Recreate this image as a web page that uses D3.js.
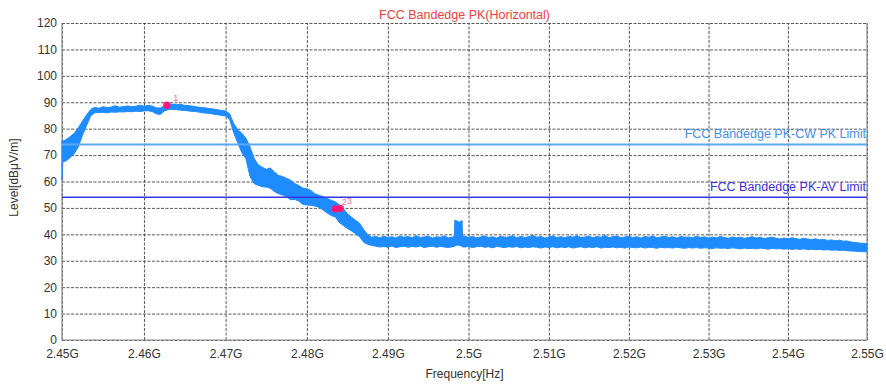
<!DOCTYPE html>
<html>
<head>
<meta charset="utf-8">
<script src="https://cdn.jsdelivr.net/npm/d3@7"></script>
<style>
  body { margin: 0; background: #fff; }
  svg { display: block; font-family: "Liberation Sans", Arial, sans-serif; }
</style>
</head>
<body>
<svg id="chart" width="886" height="385"></svg>
<script>
// ---- axis ticks ----
const xTickMHz = [2450, 2460, 2470, 2480, 2490, 2500, 2510, 2520, 2530, 2540, 2550];
const xTickLabels = ["2.45G", "2.46G", "2.47G", "2.48G", "2.49G", "2.5G", "2.51G", "2.52G", "2.53G", "2.54G", "2.55G"];
const yTicks = [0, 10, 20, 30, 40, 50, 60, 70, 80, 90, 100, 110, 120];

// ---- limit lines ----
const limitNames = ["FCC Bandedge PK-CW PK Limit", "FCC Bandedge PK-AV Limit"];
const limitLevels = [74, 54];

// ---- markers ----
const markerIds = ["1", "2", "3"];
const markerMHz = [2462.8, 2483.5, 2484.1];
const markerLevels = [88.9, 49.6, 49.8];

// ---- peak trace: max / min hold per sweep point (MHz, dBµV/m) ----
const traceMHz = [
  2450.0,2450.1,2450.5,2451.0,2451.5,2452.0,2452.5,2453.0,2453.5,2454.0,
  2454.5,2455.0,2455.5,2456.0,2456.5,2457.0,2457.5,2458.0,2458.5,2459.0,
  2459.5,2460.0,2460.5,2461.0,2461.5,2462.0,2462.5,2463.0,2463.5,2464.0,
  2464.5,2465.0,2465.5,2466.0,2466.5,2467.0,2467.5,2468.0,2468.5,2469.0,
  2469.5,2470.0,2470.5,2471.0,2471.5,2472.0,2472.5,2473.0,2473.5,2474.0,
  2474.5,2475.0,2475.5,2476.0,2476.5,2477.0,2477.5,2478.0,2478.5,2479.0,
  2479.5,2480.0,2480.5,2481.0,2481.5,2482.0,2482.5,2483.0,2483.5,2484.0,
  2484.5,2485.0,2485.5,2486.0,2486.5,2487.0,2487.5,2488.0,2488.5,2489.0,
  2489.5,2490.0,2490.5,2491.0,2491.5,2492.0,2492.5,2493.0,2493.5,2494.0,
  2494.5,2495.0,2495.5,2496.0,2496.5,2497.0,2497.5,2498.0,2498.25,2498.3,
  2498.6,2498.9,2499.2,2499.25,2499.5,2500.0,2500.5,2501.0,2501.5,2502.0,
  2502.5,2503.0,2503.5,2504.0,2504.5,2505.0,2505.5,2506.0,2506.5,2507.0,
  2507.5,2508.0,2508.5,2509.0,2509.5,2510.0,2510.5,2511.0,2511.5,2512.0,
  2512.5,2513.0,2513.5,2514.0,2514.5,2515.0,2515.5,2516.0,2516.5,2517.0,
  2517.5,2518.0,2518.5,2519.0,2519.5,2520.0,2520.5,2521.0,2521.5,2522.0,
  2522.5,2523.0,2523.5,2524.0,2524.5,2525.0,2525.5,2526.0,2526.5,2527.0,
  2527.5,2528.0,2528.5,2529.0,2529.5,2530.0,2530.5,2531.0,2531.5,2532.0,
  2532.5,2533.0,2533.5,2534.0,2534.5,2535.0,2535.5,2536.0,2536.5,2537.0,
  2537.5,2538.0,2538.5,2539.0,2539.5,2540.0,2540.5,2541.0,2541.5,2542.0,
  2542.5,2543.0,2543.5,2544.0,2544.5,2545.0,2545.5,2546.0,2546.5,2547.0,
  2547.5,2548.0,2548.5,2549.0,2549.5,2550.0
];
const tracePeakMax = [
  75.4,75.2,75.9,77.0,78.3,80.4,82.9,85.2,87.3,88.1,
  87.7,88.3,88.0,88.2,88.7,88.1,88.4,88.6,88.3,88.5,
  88.9,88.5,88.8,88.6,87.9,87.8,88.7,89.2,89.3,89.1,
  89.2,88.8,88.7,88.5,88.2,88.0,87.9,87.6,87.4,87.2,
  86.9,86.7,85.6,81.9,79.6,78.3,76.4,73.1,68.8,66.3,
  65.4,64.6,65.1,63.6,62.3,61.9,61.2,60.5,59.2,58.5,
  57.5,57.2,56.6,55.3,54.8,54.2,53.6,52.9,52.3,51.2,
  49.7,47.8,46.5,45.3,44.2,41.8,39.9,38.9,39.2,38.7,
  39.3,38.8,39.1,38.6,39.4,38.9,39.2,38.7,39.5,38.8,
  39.0,39.3,38.6,39.1,38.9,39.4,38.7,39.0,39.2,45.4,
  45.0,44.6,45.2,39.1,39.3,38.9,39.2,38.7,39.0,39.4,
  38.8,39.1,38.6,39.3,38.9,39.0,39.5,38.7,39.2,38.8,
  39.1,39.6,38.9,39.2,38.6,39.0,39.4,38.8,39.1,38.7,
  39.3,38.9,39.5,38.8,39.0,39.3,38.7,39.2,38.9,39.6,
  38.8,39.1,39.4,38.7,39.0,39.3,38.8,39.1,38.6,39.2,
  38.9,39.4,38.7,39.0,39.3,38.8,39.1,38.6,39.2,38.9,
  39.0,38.7,39.3,38.8,39.1,38.6,39.0,38.7,39.2,38.8,
  38.5,39.0,38.7,38.9,38.5,38.8,39.1,38.6,38.9,38.4,
  38.7,38.9,38.5,38.2,38.6,38.3,38.7,38.4,38.1,38.5,
  38.2,38.0,38.3,37.9,38.1,37.7,37.9,37.6,37.8,37.4,
  37.5,37.1,36.9,36.7,36.6,36.5
];
const tracePeakMin = [
  60.6,67.5,67.8,69.1,70.6,73.2,77.6,81.2,84.9,86.0,
  86.1,86.2,86.0,86.3,86.2,86.4,86.3,86.5,86.4,86.6,
  86.5,86.7,86.8,86.5,85.6,85.4,86.7,87.2,87.3,87.2,
  87.0,86.9,86.7,86.5,86.4,86.1,85.9,85.8,85.5,85.3,
  85.0,84.8,83.4,78.4,74.6,70.9,68.6,61.9,59.2,58.6,
  58.0,57.9,57.4,56.2,55.4,54.9,54.2,53.1,53.2,52.6,
  51.3,51.1,51.0,50.7,50.2,49.2,48.1,47.1,46.6,44.5,
  43.3,42.2,41.3,40.2,39.1,37.0,36.2,35.8,35.5,35.2,
  35.4,35.1,35.6,35.0,35.3,35.5,35.1,35.4,35.2,35.6,
  35.0,35.3,35.5,35.1,35.4,35.2,35.0,35.3,35.4,35.6,
  36.0,35.8,35.5,35.2,35.2,35.4,35.0,35.3,35.5,35.1,
  35.3,34.9,35.4,35.2,35.0,35.3,35.1,35.4,34.9,35.2,
  35.0,35.3,35.1,34.8,35.2,35.0,35.3,34.9,35.2,35.0,
  35.3,34.8,35.1,35.3,34.9,35.2,35.0,35.3,34.8,35.1,
  35.0,35.2,34.9,35.1,34.8,35.2,35.0,34.9,35.2,34.8,
  35.1,35.0,34.7,35.1,34.9,35.0,34.8,35.1,34.9,34.7,
  35.0,34.8,35.0,34.7,34.9,34.8,34.6,34.9,34.7,34.8,
  34.6,34.9,34.7,34.5,34.8,34.6,34.7,34.5,34.8,34.6,
  34.4,34.7,34.5,34.6,34.4,34.6,34.3,34.5,34.3,34.5,
  34.2,34.4,34.2,34.3,34.1,34.2,34.0,34.1,33.9,34.0,
  33.8,33.7,33.6,33.5,33.4,33.4
];

// ---- layout ----
const plot = { left: 62, right: 867, top: 23, bottom: 340 };
const pw = plot.right - plot.left, ph = plot.bottom - plot.top;

const x = d3.scaleLog().domain([2450, 2550]).range([plot.left, plot.right]);
const y = d3.scaleLinear().domain([0, 120]).range([plot.bottom, plot.top]);

const svg = d3.select("#chart");
const font = "Liberation Sans, Arial, sans-serif";

// horizontal grid + level labels
const gy = svg.append("g")
  .attr("transform", `translate(${plot.left},0)`)
  .call(d3.axisLeft(y).tickValues(yTicks).tickSize(-pw).tickSizeOuter(0).tickPadding(5).tickFormat(d => d));
gy.select(".domain").remove();
gy.selectAll(".tick line").attr("stroke", "#3c3c3c").attr("stroke-dasharray", "3,1.5").attr("stroke-opacity", 0.85);
gy.selectAll(".tick text").attr("fill", "#333").style("font-size", "12px").style("font-family", font);

// vertical grid + frequency labels
const gx = svg.append("g")
  .attr("transform", `translate(0,${plot.bottom})`)
  .call(d3.axisBottom(x).tickValues(xTickMHz).tickSize(-ph).tickSizeOuter(0).tickPadding(9)
    .tickFormat((d, i) => xTickLabels[i]));
gx.select(".domain").remove();
gx.selectAll(".tick line").attr("stroke", "#3c3c3c").attr("stroke-dasharray", "3,1.5").attr("stroke-opacity", 0.85);
gx.selectAll(".tick text").attr("fill", "#333").style("font-size", "12px").style("font-family", font);

// frame: left, bottom and right edges solid
svg.append("path")
  .attr("d", `M${plot.left},${plot.top}V${plot.bottom}H${plot.right}V${plot.top}`)
  .attr("fill", "none").attr("stroke", "#8c8c8c").attr("stroke-width", 1.2);

// trace band between max and min hold
const pts = traceMHz.map((f, i) => ({ f, hi: tracePeakMax[i], lo: tracePeakMin[i] }));
const area = d3.area().x(d => x(d.f)).y0(d => y(d.lo)).y1(d => y(d.hi));
svg.append("path").datum(pts)
  .attr("d", area)
  .attr("fill", "#1e8cff")
  .attr("stroke", "#1e8cff").attr("stroke-width", 1).attr("stroke-linejoin", "round");

// limit lines with right-aligned names
const limitColors = ["#5aa9f2", "#3535e6"];
const limitTextColors = ["#3f8ff0", "#3a2fe6"];
const limitWidths = [2, 1.5];
limitLevels.forEach((lv, i) => {
  svg.append("line")
    .attr("x1", plot.left).attr("x2", plot.right)
    .attr("y1", y(lv)).attr("y2", y(lv))
    .attr("stroke", limitColors[i]).attr("stroke-width", limitWidths[i]);
  svg.append("text")
    .attr("x", plot.right - 1).attr("y", y(lv) - 6.5)
    .attr("text-anchor", "end")
    .attr("fill", limitTextColors[i])
    .style("font-size", "12.5px").style("font-family", font)
    .text(limitNames[i]);
});

// markers: dots first, then their numbers
const markerPos = markerIds.map((id, i) => ({ id, cx: x(markerMHz[i]), cy: y(markerLevels[i]) }));
markerPos.forEach(m => {
  svg.append("circle").attr("cx", m.cx).attr("cy", m.cy).attr("r", 3.6).attr("fill", "#ff1677");
});
markerPos.forEach(m => {
  svg.append("text")
    .attr("x", m.cx + 6.5).attr("y", m.cy - 4)
    .attr("fill", "#ff6aa6")
    .style("font-size", "9px").style("font-family", font)
    .text(m.id);
});

// title
svg.append("text")
  .attr("x", (plot.left + plot.right) / 2).attr("y", 19)
  .attr("text-anchor", "middle").attr("fill", "#f83c3c")
  .style("font-size", "12.5px").style("font-family", font)
  .text("FCC Bandedge PK(Horizontal)");

// axis titles
svg.append("text")
  .attr("transform", `translate(18,${(plot.top + plot.bottom) / 2 - 4}) rotate(-90)`)
  .attr("text-anchor", "middle").attr("fill", "#333")
  .style("font-size", "12px").style("font-family", font)
  .text("Level[dBμV/m]");
svg.append("text")
  .attr("x", (plot.left + plot.right) / 2).attr("y", 378)
  .attr("text-anchor", "middle").attr("fill", "#333")
  .style("font-size", "12px").style("font-family", font)
  .text("Frequency[Hz]");
</script>
</body>
</html>
